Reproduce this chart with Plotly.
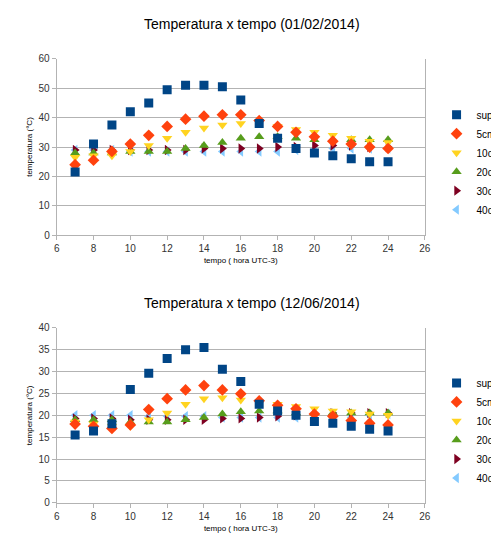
import plotly.graph_objects as go

hours = list(range(7, 25))
names = ["sup", "5cm", "10cm", "20cm", "30cm", "40cm"]
d1 = {
 "sup": [21.5,31,37.5,42,45,49.5,51,51,50.5,46,38,33,29.5,28,27,26,25,25],
 "5cm": [24,25.5,28.5,31,34,37,39.5,40.5,41,41,39,37,35,33.5,32,31,30,29.5],
 "10cm": [26.5,27,27,28.5,30.5,33,35,36.5,37.5,38,38.5,37,36,35,34,33,32,31.5],
 "20cm": [28,28,28,28.5,28.5,28.5,29.5,30.5,31.5,33,33.5,33.5,33,32.5,32.5,32.5,32.5,32.5],
 "30cm": [29,29,29,29,29,29,29,29.5,29.5,29.5,29.5,30,30,30.5,30.5,30.5,30,30],
 "40cm": [29,29,29,28.5,28.5,28.5,28.5,28.5,28.5,28.5,28.5,28.5,29,29,29.5,29.5,29.5,29.5],
}
d2 = {
 "sup": [15.5,16.4,18.1,25.9,29.6,33,35,35.5,30.5,27.7,22.5,21,20,18.6,18.2,17.5,16.8,16.4],
 "5cm": [18,17.5,17,17.8,21.3,23.8,25.8,26.8,25.8,24.9,23.3,22.3,21.5,20.3,19.8,18.8,18.2,17.8],
 "10cm": [18.5,18,17.5,17.5,19,20.5,22.5,23.8,24,23.5,23,22.5,22,21.5,21,20.8,20.3,20],
 "20cm": [19,19,19,18.5,18.5,18.5,19,19.5,20.3,20.8,21,21,20.5,20.5,20.5,20.5,20.5,20.5],
 "30cm": [19.3,19.3,19.3,19,19,19,19,19,19.3,19.3,19.5,19.8,20,20.3,20.5,20.5,20.5,20.5],
 "40cm": [20,20,20,20,19.8,19.8,19.8,19.8,19.5,19.5,19.5,19.5,19.5,19.5,19.5,19.5,20,20.3],
}
colors = ["#004586","#ff420e","#ffd320","#579d1c","#7e0021","#83caff"]
symbols = ["square","diamond","triangle-down","triangle-up","triangle-right","triangle-left"]

fig = go.Figure()
order = [5,4,3,2,1,0]
for d, xa, ya, lg in [(d1,"x","y","legend"),(d2,"x2","y2","legend2")]:
    for i in order:
        n = names[i]
        fig.add_trace(go.Scatter(x=hours, y=d[n], mode="markers", name=n, xaxis=xa, yaxis=ya,
            legend=lg, legendrank=i+1,
            marker=dict(symbol=symbols[i], color=colors[i], size=9,
                        line=dict(width=0))))

ax = dict(showgrid=False, showline=True, linecolor="#b3b3b3", ticks="outside", ticklen=4, automargin=False,
          tickcolor="#b3b3b3", range=[6,26], dtick=2, tickfont=dict(size=10, color="#333"), zeroline=False)
ay = dict(showgrid=True, gridcolor="#b3b3b3", showline=True, linecolor="#b3b3b3", mirror=True, automargin=False,
          ticks="outside", ticklen=4, tickcolor="#b3b3b3", tickfont=dict(size=10, color="#333"), zeroline=False)
fig.update_layout(
    width=499, height=542, margin=dict(l=0,r=0,t=0,b=0), plot_bgcolor="white", paper_bgcolor="white",
    font=dict(family="Liberation Sans", color="#000"),
    xaxis=dict(ax, domain=[0.1,0.856], anchor="y", title=dict(text="tempo ( hora UTC-3)", font=dict(size=8), standoff=4)),
    yaxis=dict(ay, domain=[0.581,0.906], range=[0,60], dtick=10, anchor="x", title=dict(text="temperatura (°C)", font=dict(size=8), standoff=4)),
    xaxis2=dict(ax, domain=[0.1,0.856], anchor="y2", title=dict(text="tempo ( hora UTC-3)", font=dict(size=8), standoff=4)),
    yaxis2=dict(ay, domain=[0.087,0.410], range=[0,40], dtick=5, anchor="x2", title=dict(text="temperatura (°C)", font=dict(size=8), standoff=4)),
    legend=dict(x=0.88, y=0.83, yanchor="top", font=dict(size=10), tracegroupgap=0, itemwidth=30),
    legend2=dict(x=0.88, y=0.335, yanchor="top", font=dict(size=10), tracegroupgap=0, itemwidth=30),
    annotations=[
        dict(text="Temperatura x tempo (01/02/2014)", x=0.5, y=1-16/542, xref="paper", yref="paper",
             showarrow=False, font=dict(size=14), xanchor="center", yanchor="middle"),
        dict(text="Temperatura x tempo (12/06/2014)", x=0.5, y=1-295/542, xref="paper", yref="paper",
             showarrow=False, font=dict(size=14), xanchor="center", yanchor="middle"),
    ],
)
fig.write_html("out.html")
